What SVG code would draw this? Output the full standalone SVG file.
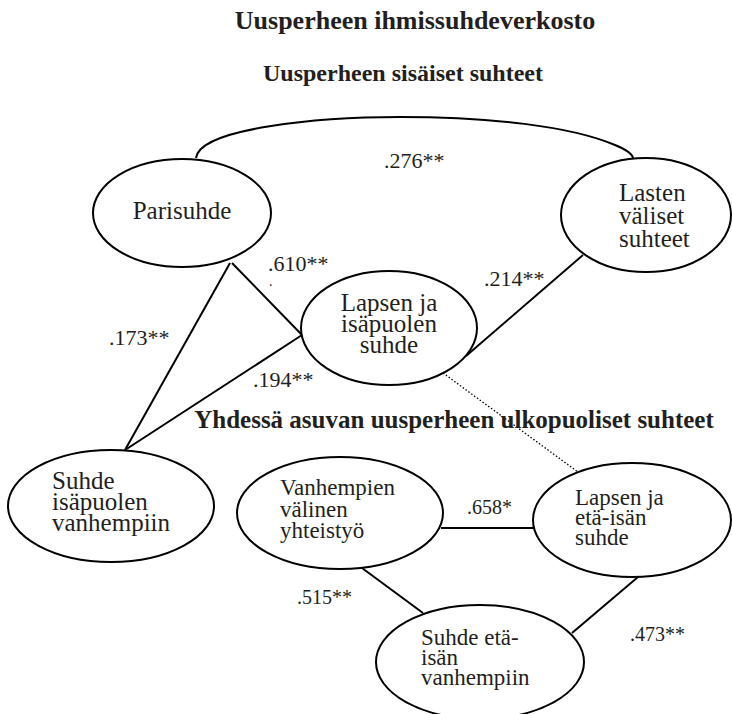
<svg xmlns="http://www.w3.org/2000/svg" width="732" height="714" viewBox="0 0 732 714" font-family="'Liberation Serif', Tinos, 'Times New Roman', 'DejaVu Serif', serif">
<style>
text{font-family:'Liberation Serif',Tinos,'Times New Roman','DejaVu Serif',serif;fill:#231f20}
.h{font-weight:bold}
.n{font-size:25px}
.s{font-size:23px}
.l{font-size:22px}
.ls{font-size:20px}
ellipse{fill:#fff;stroke:#000;stroke-width:2}
.c line,.c path{stroke:#000;stroke-width:2;fill:none}
.c .dot{stroke-width:1.3;stroke-dasharray:1.5 2}
</style>
<rect width="732" height="714" fill="#fff"/>
<text class="h" x="415" y="29" font-size="26" text-anchor="middle">Uusperheen ihmissuhdeverkosto</text>
<text class="h" x="403" y="81" font-size="24" text-anchor="middle">Uusperheen sisäiset suhteet</text>
<g class="c" id="connectors">
<path d="M196,158 C200,128 320,117 400,117 C490,117 570,126 615,145 Q632,152 633,158"/>
<line x1="232" y1="263" x2="302" y2="335"/>
<line x1="230" y1="263" x2="125" y2="450"/>
<line x1="125" y1="450" x2="302" y2="335"/>
<line x1="583" y1="255" x2="466" y2="356"/>
<line class="dot" x1="443" y1="373" x2="578" y2="472"/>
<line x1="441" y1="528" x2="534" y2="528"/>
<line x1="362" y1="568" x2="423" y2="613"/>
<line x1="572" y1="633" x2="638" y2="577"/>
</g>
<text class="h" x="454" y="428" font-size="25" text-anchor="middle">Yhdessä asuvan uusperheen ulkopuoliset suhteet</text>
<g id="parisuhde">
<ellipse cx="182" cy="213" rx="89" ry="54"/>
<text class="n" x="182" y="219" text-anchor="middle">Parisuhde</text>
</g>
<g id="lasten">
<ellipse cx="646" cy="215" rx="85" ry="57"/>
<text class="n" x="619" y="201">Lasten</text>
<text class="n" x="619" y="224">väliset</text>
<text class="n" x="619" y="247">suhteet</text>
</g>
<g id="lapsen-isapuolen">
<ellipse cx="389" cy="328" rx="88" ry="57"/>
<text class="n" x="389" y="311" text-anchor="middle">Lapsen ja</text>
<text class="n" x="389" y="332" text-anchor="middle">isäpuolen</text>
<text class="n" x="389" y="353" text-anchor="middle">suhde</text>
</g>
<g id="suhde-isapuolen">
<ellipse cx="111" cy="506" rx="103" ry="56"/>
<text class="n" x="52" y="489">Suhde</text>
<text class="n" x="52" y="510">isäpuolen</text>
<text class="n" x="52" y="531">vanhempiin</text>
</g>
<g id="vanhempien">
<ellipse cx="340" cy="513" rx="103" ry="56"/>
<text class="s" x="280" y="495">Vanhempien</text>
<text class="s" x="280" y="517">välinen</text>
<text class="s" x="280" y="538">yhteistyö</text>
</g>
<g id="lapsen-etaisan">
<ellipse cx="632" cy="520" rx="99" ry="57"/>
<text class="s" x="575" y="505">Lapsen ja</text>
<text class="s" x="575" y="525">etä-isän</text>
<text class="s" x="575" y="545">suhde</text>
</g>
<g id="suhde-etaisan">
<ellipse cx="480" cy="662" rx="104" ry="57"/>
<text class="s" x="421" y="645">Suhde etä-</text>
<text class="s" x="421" y="665">isän</text>
<text class="s" x="421" y="685">vanhempiin</text>
</g>
<g id="labels">
<text class="l" x="384" y="168">.276**</text>
<text class="l" x="268" y="271">.610**</text>
<text x="269" y="286" font-size="14">.</text>
<text class="l" x="484" y="286">.214**</text>
<text class="l" x="109" y="345">.173**</text>
<text class="l" x="253" y="387">.194**</text>
<text class="ls" x="467" y="514">.658*</text>
<text class="ls" x="297" y="604">.515**</text>
<text class="ls" x="630" y="641">.473**</text>
</g>
</svg>
